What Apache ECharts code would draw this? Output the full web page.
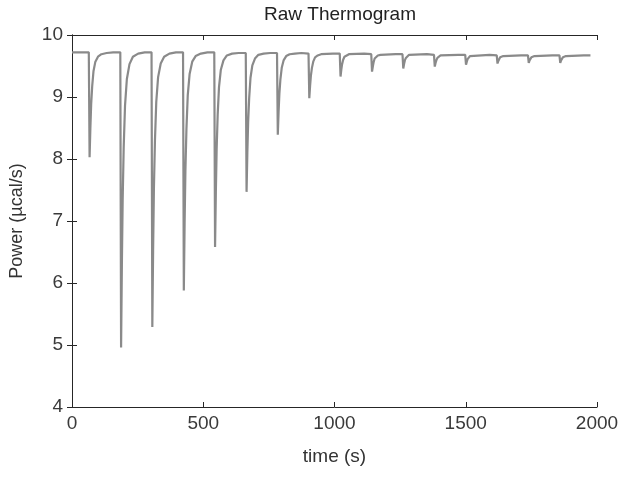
<!DOCTYPE html>
<html>
<head>
<meta charset="utf-8">
<script src="https://cdn.jsdelivr.net/npm/echarts@6/dist/echarts.min.js"></script>
<style>
html,body{margin:0;padding:0;background:#fff;}
#chart{width:624px;height:478px;}
</style>
</head>
<body>
<div id="chart"></div>
<script>
// Axis tick labels
var xTicks = [0, 500, 1000, 1500, 2000];
var yTicks = [4, 5, 6, 7, 8, 9, 10];

// Raw thermogram: [time (s), power (µcal/s)], grouped per injection
var startSegment = [[0, 9.72]];
var injection1  = [[64,9.72],[67,8.03],[70,8.50],[73,8.88],[77,9.18],[82,9.42],[89,9.57],[99,9.65],[112,9.69],[132,9.71],[157,9.72]];
var injection2  = [[184,9.72],[187,4.96],[190,6.29],[193,7.34],[197,8.20],[202,8.86],[209,9.29],[219,9.53],[232,9.65],[252,9.70],[277,9.72]];
var injection3  = [[303,9.72],[306,5.29],[309,6.53],[312,7.51],[316,8.30],[321,8.92],[328,9.32],[338,9.54],[351,9.65],[371,9.70],[396,9.72]];
var injection4  = [[423,9.72],[426,5.88],[429,6.96],[432,7.80],[436,8.49],[441,9.03],[448,9.37],[458,9.57],[471,9.66],[491,9.70],[516,9.72]];
var injection5  = [[542,9.72],[545,6.58],[548,7.46],[551,8.15],[555,8.72],[560,9.16],[567,9.44],[577,9.59],[590,9.67],[610,9.70],[635,9.71]];
var injection6  = [[662,9.71],[665,7.47],[668,8.10],[671,8.59],[675,8.99],[680,9.31],[687,9.51],[697,9.62],[710,9.68],[730,9.70],[755,9.71]];
var injection7  = [[781,9.71],[784,8.39],[787,8.76],[790,9.05],[794,9.29],[799,9.47],[806,9.59],[816,9.66],[829,9.69],[849,9.70],[874,9.71]];
var injection8  = [[901,9.70],[904,8.98],[907,9.18],[910,9.34],[914,9.47],[919,9.57],[926,9.64],[936,9.67],[949,9.69],[994,9.70]];
var injection9  = [[1020,9.70],[1023,9.33],[1026,9.44],[1029,9.53],[1033,9.60],[1038,9.65],[1045,9.68],[1055,9.69],[1113,9.70]];
var injection10 = [[1140,9.69],[1143,9.41],[1146,9.49],[1149,9.56],[1153,9.62],[1158,9.65],[1165,9.67],[1175,9.68],[1233,9.69]];
var injection11 = [[1259,9.69],[1262,9.46],[1265,9.53],[1268,9.59],[1272,9.63],[1277,9.66],[1284,9.68],[1352,9.69]];
var injection12 = [[1379,9.68],[1382,9.49],[1385,9.55],[1388,9.59],[1392,9.63],[1397,9.66],[1404,9.67],[1472,9.68]];
var injection13 = [[1498,9.68],[1501,9.52],[1504,9.57],[1507,9.61],[1511,9.64],[1516,9.66],[1523,9.67],[1591,9.68]];
var injection14 = [[1618,9.67],[1621,9.54],[1624,9.58],[1627,9.61],[1631,9.64],[1636,9.65],[1643,9.66],[1711,9.67]];
var injection15 = [[1737,9.67],[1740,9.55],[1743,9.59],[1746,9.62],[1750,9.64],[1755,9.65],[1762,9.66],[1830,9.67]];
var injection16 = [[1857,9.67],[1860,9.55],[1863,9.59],[1866,9.62],[1870,9.64],[1875,9.65],[1882,9.66],[1950,9.67]];
var endSegment = [[1975, 9.67]];

var thermogram = [].concat(startSegment, injection1, injection2, injection3, injection4,
  injection5, injection6, injection7, injection8, injection9, injection10, injection11,
  injection12, injection13, injection14, injection15, injection16, endSegment);

var FONT = '"Liberation Sans", Arial, Helvetica, sans-serif';
var chart = echarts.init(document.getElementById('chart'), null, {renderer: 'canvas'});

var axisLineStyle = {color: '#262626', width: 1};
var tickInside = {show: true, inside: true, length: 5, lineStyle: {color: '#262626', width: 1}};
var plain = function (v) { return String(v); };

chart.setOption({
  animation: false,
  backgroundColor: '#ffffff',
  title: {
    text: 'Raw Thermogram',
    left: 335, top: 0, textAlign: 'center',
    textStyle: {fontFamily: FONT, fontSize: 19, fontWeight: 'normal', color: '#222'}
  },
  grid: {left: 72, right: 27, top: 35, bottom: 71, containLabel: false},
  xAxis: [{
    type: 'value', min: xTicks[0], max: xTicks[xTicks.length - 1], interval: 500,
    position: 'bottom',
    name: 'time (s)', nameLocation: 'middle', nameGap: 40,
    nameTextStyle: {fontFamily: FONT, fontSize: 19, color: '#333'},
    axisLine: {show: true, lineStyle: axisLineStyle},
    axisTick: tickInside,
    axisLabel: {fontFamily: FONT, fontSize: 19, color: '#3a3a3a', margin: 7, formatter: plain},
    splitLine: {show: false}
  }, {
    type: 'value', min: xTicks[0], max: xTicks[xTicks.length - 1], interval: 500,
    position: 'top',
    axisLine: {show: true, lineStyle: axisLineStyle},
    axisTick: tickInside,
    axisLabel: {show: false},
    splitLine: {show: false}
  }],
  yAxis: [{
    type: 'value', min: yTicks[0], max: yTicks[yTicks.length - 1], interval: 1,
    position: 'left',
    name: 'Power (\u00b5cal/s)', nameLocation: 'middle', nameGap: 46, nameRotate: 90,
    nameTextStyle: {fontFamily: FONT, fontSize: 18, color: '#333'},
    axisLine: {show: true, lineStyle: axisLineStyle},
    axisTick: tickInside,
    axisLabel: {fontFamily: FONT, fontSize: 19, color: '#3a3a3a', margin: 9, formatter: plain},
    splitLine: {show: false}
  }, {
    type: 'value', min: yTicks[0], max: yTicks[yTicks.length - 1], interval: 1,
    position: 'right',
    axisLine: {show: true, lineStyle: axisLineStyle},
    axisTick: tickInside,
    axisLabel: {show: false},
    splitLine: {show: false}
  }],
  series: [{
    type: 'line',
    xAxisIndex: 0, yAxisIndex: 0,
    data: thermogram,
    showSymbol: false,
    symbol: 'none',
    smooth: false,
    lineStyle: {color: '#8a8a8a', width: 2.2},
    z: 1
  }]
});
</script>
</body>
</html>
